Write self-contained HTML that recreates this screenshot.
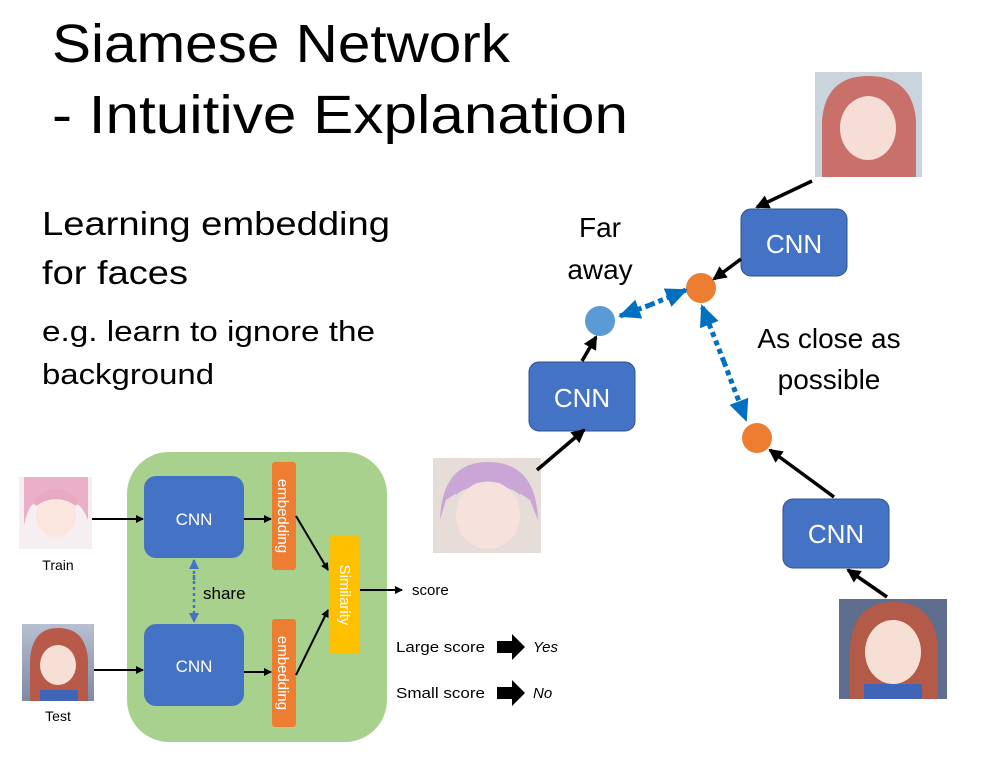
<!DOCTYPE html>
<html><head><meta charset="utf-8"><style>
html,body{margin:0;padding:0;background:#fff;}
svg{display:block;font-family:"Liberation Sans",sans-serif;}
</style></head><body>
<svg width="986" height="757" viewBox="0 0 986 757" xmlns="http://www.w3.org/2000/svg">
<defs>
<marker id="ah" markerWidth="8" markerHeight="8" refX="7" refY="4" orient="auto" markerUnits="userSpaceOnUse"><path d="M0,0 L8,4 L0,8 z" fill="#000"/></marker>
<marker id="ahb" markerWidth="14" markerHeight="14" refX="12" refY="7" orient="auto" markerUnits="userSpaceOnUse"><path d="M0,0 L14,7 L0,14 z" fill="#000"/></marker>
<marker id="bl" markerWidth="22" markerHeight="20" refX="20" refY="10" orient="auto" markerUnits="userSpaceOnUse"><path d="M0,0 L22,10 L0,20 z" fill="#0070c0"/></marker>
<marker id="bls" markerWidth="10" markerHeight="10" refX="9" refY="5" orient="auto" markerUnits="userSpaceOnUse"><path d="M0,0 L10,5 L0,10 z" fill="#4472c4"/></marker>
<linearGradient id="red" x1="0" y1="0" x2="0" y2="1"><stop offset="0" stop-color="#b7c0d0"/><stop offset="1" stop-color="#7d8aa6"/></linearGradient>
</defs>

<text x="52" y="62" font-size="54" textLength="458" lengthAdjust="spacingAndGlyphs">Siamese Network</text>
<text x="52" y="133" font-size="54" textLength="576" lengthAdjust="spacingAndGlyphs">- Intuitive Explanation</text>
<text x="42" y="235" font-size="33" textLength="348" lengthAdjust="spacingAndGlyphs">Learning embedding</text>
<text x="42" y="284" font-size="33" textLength="146" lengthAdjust="spacingAndGlyphs">for faces</text>
<text x="42" y="341" font-size="29" textLength="333" lengthAdjust="spacingAndGlyphs">e.g. learn to ignore the</text>
<text x="42" y="384" font-size="29" textLength="172" lengthAdjust="spacingAndGlyphs">background</text>

<rect x="127" y="452" width="260" height="290" rx="42" fill="#a9d18e"/>
<rect x="19" y="477" width="73" height="72" fill="#f6eef0"/>
<path d="M24,477 H88 V520 Q80,500 72,505 Q55,490 36,505 Q30,500 24,525 z" fill="#eab0c8"/>
<ellipse cx="56" cy="515" rx="20" ry="22" fill="#fae5df"/>
<path d="M34,500 Q56,478 78,500 L76,506 Q56,492 36,506 z" fill="#e8a9c2"/>
<text x="58" y="570" font-size="14" text-anchor="middle">Train</text>
<rect x="22" y="624" width="72" height="77" fill="url(#red)"/>
<path d="M30,701 V660 Q32,628 58,628 Q86,628 88,660 V701 z" fill="#b85a4a"/>
<ellipse cx="58" cy="665" rx="18" ry="20" fill="#f6e0d6"/>
<path d="M40,690 H78 V701 H40 z" fill="#3e65b8"/>
<text x="58" y="721" font-size="14" text-anchor="middle">Test</text>

<line x1="92" y1="519" x2="143" y2="519" stroke="#000" stroke-width="2" marker-end="url(#ah)"/>
<line x1="94" y1="670" x2="143" y2="670" stroke="#000" stroke-width="2" marker-end="url(#ah)"/>

<rect x="144" y="476" width="100" height="82" rx="12" fill="#4472c4"/>
<text x="194" y="525" font-size="17" fill="#fff" text-anchor="middle">CNN</text>
<rect x="144" y="624" width="100" height="82" rx="12" fill="#4472c4"/>
<text x="194" y="672" font-size="17" fill="#fff" text-anchor="middle">CNN</text>

<line x1="194" y1="575" x2="194" y2="622" stroke="#4472c4" stroke-width="2.5" stroke-dasharray="3,3" marker-end="url(#bls)"/>
<line x1="194" y1="580" x2="194" y2="560" stroke="#4472c4" stroke-width="2.5" stroke-dasharray="3,3" marker-end="url(#bls)"/>
<text x="203" y="599" font-size="17">share</text>

<line x1="244" y1="519" x2="271" y2="519" stroke="#000" stroke-width="2" marker-end="url(#ah)"/>
<line x1="244" y1="672" x2="271" y2="672" stroke="#000" stroke-width="2" marker-end="url(#ah)"/>

<rect x="272" y="462" width="24" height="108" rx="3" fill="#ed7d31"/>
<text transform="translate(278,516) rotate(90)" font-size="15" fill="#fff" text-anchor="middle">embedding</text>
<rect x="272" y="619" width="24" height="108" rx="3" fill="#ed7d31"/>
<text transform="translate(278,673) rotate(90)" font-size="15" fill="#fff" text-anchor="middle">embedding</text>

<line x1="296" y1="516" x2="328" y2="570" stroke="#000" stroke-width="2" marker-end="url(#ah)"/>
<line x1="296" y1="675" x2="328" y2="610" stroke="#000" stroke-width="2" marker-end="url(#ah)"/>

<rect x="329" y="536" width="31" height="118" rx="3" fill="#ffc000"/>
<text transform="translate(340,595) rotate(90)" font-size="15" fill="#fff" text-anchor="middle">Similarity</text>

<line x1="360" y1="590" x2="402" y2="590" stroke="#000" stroke-width="2" marker-end="url(#ah)"/>
<text x="412" y="595" font-size="15">score</text>

<text x="396" y="652" font-size="15" textLength="89" lengthAdjust="spacingAndGlyphs">Large score</text>
<path d="M497,641 H512 V634 L525,647 L512,660 V653 H497 z" fill="#000"/>
<text x="533" y="652" font-size="15" font-style="italic">Yes</text>
<text x="396" y="698" font-size="15" textLength="89" lengthAdjust="spacingAndGlyphs">Small score</text>
<path d="M497,687 H512 V680 L525,693 L512,706 V699 H497 z" fill="#000"/>
<text x="533" y="698" font-size="15" font-style="italic">No</text>

<rect x="815" y="72" width="107" height="105" fill="#c9d4dc"/>
<path d="M822,177 V120 Q826,76 868,76 Q912,76 916,120 V177 z" fill="#c9706a"/>
<ellipse cx="868" cy="128" rx="28" ry="32" fill="#f6ddd6"/>
<path d="M842,112 Q868,80 896,112 L892,100 Q868,78 844,100 z" fill="#c9706a"/>

<rect x="433" y="458" width="108" height="95" fill="#e6dcd8"/>
<path d="M440,520 Q442,462 488,462 Q536,462 538,520 L530,500 Q488,470 446,500 z" fill="#c9a6d6"/>
<ellipse cx="488" cy="515" rx="32" ry="34" fill="#f7e1dc"/>
<path d="M456,495 Q488,468 520,495 L518,488 Q488,465 458,488 z" fill="#c9a6d6"/>

<rect x="839" y="599" width="108" height="100" fill="#5f6e8e"/>
<path d="M850,699 V650 Q852,602 893,602 Q936,602 938,650 V699 z" fill="#b45a48"/>
<ellipse cx="893" cy="652" rx="28" ry="32" fill="#f6e0d6"/>
<path d="M864,684 H922 V699 H864 z" fill="#3e65b8"/>

<rect x="741" y="209" width="106" height="67" rx="10" fill="#4472c4" stroke="#2f528f" stroke-width="1"/>
<text x="794" y="253" font-size="26" fill="#fff" text-anchor="middle">CNN</text>
<rect x="529" y="362" width="106" height="69" rx="10" fill="#4472c4" stroke="#2f528f" stroke-width="1"/>
<text x="582" y="407" font-size="26" fill="#fff" text-anchor="middle">CNN</text>
<rect x="783" y="499" width="106" height="69" rx="10" fill="#4472c4" stroke="#2f528f" stroke-width="1"/>
<text x="836" y="543" font-size="26" fill="#fff" text-anchor="middle">CNN</text>

<circle cx="600" cy="321" r="15" fill="#5b9bd5"/>
<circle cx="701" cy="288" r="15" fill="#ed7d31"/>
<circle cx="757" cy="438" r="15" fill="#ed7d31"/>

<line x1="812" y1="181" x2="757" y2="207" stroke="#000" stroke-width="3.5" marker-end="url(#ahb)"/>
<line x1="741" y1="259" x2="714" y2="279" stroke="#000" stroke-width="3.5" marker-end="url(#ahb)"/>
<line x1="537" y1="470" x2="584" y2="430" stroke="#000" stroke-width="3.5" marker-end="url(#ahb)"/>
<line x1="582" y1="361" x2="596" y2="337" stroke="#000" stroke-width="3.5" marker-end="url(#ahb)"/>
<line x1="887" y1="597" x2="848" y2="570" stroke="#000" stroke-width="3.5" marker-end="url(#ahb)"/>
<line x1="834" y1="497" x2="770" y2="450" stroke="#000" stroke-width="3.5" marker-end="url(#ahb)"/>

<line x1="650" y1="305" x2="620" y2="316" stroke="#0070c0" stroke-width="5" stroke-dasharray="5,4" marker-end="url(#bl)"/>
<line x1="650" y1="305" x2="686" y2="290" stroke="#0070c0" stroke-width="5" stroke-dasharray="5,4" marker-end="url(#bl)"/>
<line x1="724" y1="362" x2="702" y2="306" stroke="#0070c0" stroke-width="5" stroke-dasharray="5,4" marker-end="url(#bl)"/>
<line x1="724" y1="362" x2="746" y2="420" stroke="#0070c0" stroke-width="5" stroke-dasharray="5,4" marker-end="url(#bl)"/>

<text x="600" y="237" font-size="28" text-anchor="middle">Far</text>
<text x="600" y="279" font-size="28" text-anchor="middle">away</text>
<text x="829" y="348" font-size="28" text-anchor="middle">As close as</text>
<text x="829" y="389" font-size="28" text-anchor="middle">possible</text>
</svg>
</body></html>
